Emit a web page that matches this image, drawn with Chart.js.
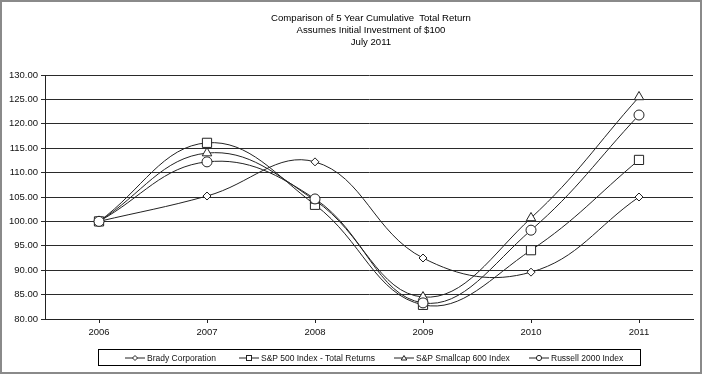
<!DOCTYPE html>
<html>
<head>
<meta charset="utf-8">
<script src="https://cdn.jsdelivr.net/npm/chart.js@4.4.0/dist/chart.umd.min.js"></script>
<style>
  html, body { margin: 0; padding: 0; background: #fff; }
  #wrap { position: relative; width: 702px; height: 374px; box-sizing: border-box; border: 2px solid #8a8a8a; overflow: hidden; font-family: "Liberation Sans", Arial, sans-serif; }
  #c { position: absolute; left: -2px; top: -2px; }
  #title { position: absolute; left: 269px; top: 10px; width: 200px; text-align: center; font-size: 9.6px; line-height: 11.8px; color: #000; white-space: nowrap; }
  #legend { position: absolute; left: 96px; top: 347px; width: 543px; height: 17px; border: 1px solid #000; box-sizing: border-box; font-size: 8.5px; color: #111; }
  .item { position: absolute; top: 2px; height: 12px; display: flex; align-items: center; white-space: nowrap; }
  .item svg { margin-right: 2px; }
</style>
</head>
<body>
<div id="wrap">
  <canvas id="c" width="702" height="374"></canvas>
  <div id="title">Comparison of 5 Year Cumulative&nbsp; Total Return<br>Assumes Initial Investment of $100<br>July 2011</div>
  <div id="legend"></div>
</div>
<script>
const categories = ["2006", "2007", "2008", "2009", "2010", "2011"];
const seriesNames = ["Brady Corporation", "S&P 500 Index - Total Returns", "S&P Smallcap 600 Index", "Russell 2000 Index"];
const brady    = [100, 105.2, 112.2, 92.5, 89.6, 105.0];
const sp500    = [100, 116.1, 103.4, 82.9, 94.1, 112.6];
const smallcap = [100, 114.0, 104.3, 84.5, 100.7, 125.5];
const russell  = [100, 112.2, 104.6, 83.3, 98.2, 121.8];
const yTicks = [80, 85, 90, 95, 100, 105, 110, 115, 120, 125, 130];

const styles = [
  { pointStyle: 'rectRot', radius: 4 },
  { pointStyle: 'rect', radius: 6.5 },
  { pointStyle: 'triangle', radius: 5.5 },
  { pointStyle: 'circle', radius: 5 }
];
const values = [brady, sp500, smallcap, russell];

const datasets = values.map((v, i) => ({
  label: seriesNames[i],
  data: v,
  borderColor: '#222',
  borderWidth: 1,
  backgroundColor: '#fff',
  pointBackgroundColor: '#fff',
  pointBorderColor: '#222',
  pointBorderWidth: 1,
  pointStyle: styles[i].pointStyle,
  pointRadius: styles[i].radius,
  tension: 0.4,
  cubicInterpolationMode: 'default'
}));

new Chart(document.getElementById('c'), {
  type: 'line',
  data: { labels: categories, datasets: datasets.slice().reverse() },
  options: {
    responsive: false,
    animation: false,
    layout: { padding: { top: 75, right: 9, bottom: 35, left: 0 } },
    plugins: { legend: { display: false }, title: { display: false }, tooltip: { enabled: false } },
    scales: {
      x: {
        offset: true,
        grid: { display: true, drawOnChartArea: false, offset: false, color: '#222', tickLength: 4 },
        border: { color: '#222', width: 1 },
        ticks: { color: '#111', font: { family: 'Liberation Sans', size: 9.5 }, padding: 4, maxRotation: 0 },
        afterFit: s => { s.height = 20; }
      },
      y: {
        min: 80, max: 130,
        afterBuildTicks: s => { s.ticks = yTicks.map(v => ({ value: v })); },
        grid: { color: '#2a2a2a', lineWidth: 1, tickLength: 4 },
        border: { color: '#222', width: 1 },
        ticks: { color: '#111', font: { family: 'Liberation Sans', size: 9.5 }, padding: 3, callback: v => Number(v).toFixed(2) },
        afterFit: s => { s.width = 45; }
      }
    }
  }
});

// HTML legend
const legend = document.getElementById('legend');
const lefts = [26, 140, 295, 430];
function markerSvg(style) {
  let shape = '';
  if (style === 'rectRot') shape = '<polygon points="10,3.5 12.5,6 10,8.5 7.5,6" fill="#fff" stroke="#222"/>';
  if (style === 'rect') shape = '<rect x="7.5" y="3.5" width="5" height="5" fill="#fff" stroke="#222"/>';
  if (style === 'triangle') shape = '<polygon points="10,3.5 12.8,8 7.2,8" fill="#fff" stroke="#222"/>';
  if (style === 'circle') shape = '<circle cx="10" cy="6" r="2.6" fill="#fff" stroke="#222"/>';
  return '<svg width="20" height="12"><line x1="0" y1="6" x2="20" y2="6" stroke="#222" stroke-width="1"/>' + shape + '</svg>';
}
seriesNames.forEach((n, i) => {
  const d = document.createElement('div');
  d.className = 'item';
  d.style.left = lefts[i] + 'px';
  d.innerHTML = markerSvg(styles[i].pointStyle) + '<span></span>';
  d.querySelector('span').textContent = n;
  legend.appendChild(d);
});
</script>
</body>
</html>
